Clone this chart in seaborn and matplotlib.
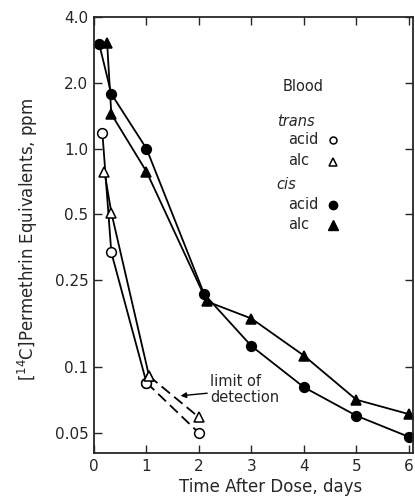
import matplotlib
matplotlib.use("Agg")
import matplotlib.pyplot as plt
from matplotlib.ticker import FixedLocator, NullLocator
import seaborn as sns
import pandas as pd

# --- data ---
cis_acid_x = [0.10, 0.33, 1.0, 2.1, 3.0, 4.0, 5.0, 6.0]
cis_acid_y = [3.0, 1.78, 1.0, 0.216, 0.125, 0.081, 0.060, 0.048]
cis_alc_x = [0.25, 0.33, 1.0, 2.15, 3.0, 4.0, 5.0, 6.0]
cis_alc_y = [3.05, 1.44, 0.785, 0.20, 0.167, 0.113, 0.071, 0.061]
trans_acid_x = [0.16, 0.33, 1.0]
trans_acid_y = [1.18, 0.335, 0.085]
trans_alc_x = [0.2, 0.33, 1.05]
trans_alc_y = [0.78, 0.51, 0.091]
trans_acid_det_x = [1.0, 2.0]
trans_acid_det_y = [0.085, 0.05]
trans_alc_det_x = [1.05, 2.0]
trans_alc_det_y = [0.091, 0.059]

yticks = [0.05, 0.1, 0.25, 0.5, 1.0, 2.0, 4.0]
ytick_labels = ["0.05", "0.1", "0.25", "0.5", "1.0", "2.0", "4.0"]
xticks = [0, 1, 2, 3, 4, 5, 6]
xtick_labels = ["0", "1", "2", "3", "4", "5", "6"]

sns.set_style("ticks")
plt.rcParams["font.family"] = ["DejaVu Sans"]

fig = plt.figure(figsize=(4.15, 4.99), dpi=100)
ax = fig.add_axes([94 / 415, 1 - 453 / 499, (413 - 94) / 415, (453 - 17) / 499])

lw = 1.3
def draw(x, y, marker, filled, dashed=False):
    df = pd.DataFrame({"x": x, "y": y})
    sns.lineplot(data=df, x="x", y="y", ax=ax, color="black", lw=lw,
                 linestyle=(0, (6, 3)) if dashed else "-",
                 marker=marker, markersize=7,
                 markerfacecolor="black" if filled else "white",
                 markeredgecolor="black", markeredgewidth=1.1,
                 sort=False, estimator=None)

draw(trans_acid_det_x, trans_acid_det_y, "o", False, dashed=True)
draw(trans_alc_det_x, trans_alc_det_y, "^", False, dashed=True)
draw(trans_acid_x, trans_acid_y, "o", False)
draw(trans_alc_x, trans_alc_y, "^", False)
draw(cis_acid_x, cis_acid_y, "o", True)
draw(cis_alc_x, cis_alc_y, "^", True)

ax.set_yscale("log")
ax.set_ylim(0.0405, 4.0)
ax.set_xlim(0, 6.08)
ax.yaxis.set_major_locator(FixedLocator(yticks))
ax.yaxis.set_minor_locator(NullLocator())
ax.set_yticklabels(ytick_labels)
ax.set_xticks(xticks)
ax.set_xticklabels(xtick_labels)
ax.tick_params(direction="in", length=6, width=1, top=True, right=True,
               labelsize=11, pad=4)
for s in ax.spines.values():
    s.set_linewidth(1.3)

ax.set_xlabel("Time After Dose, days", fontsize=12)
ax.set_ylabel(r"[$^{14}$C]Permethrin Equivalents, ppm", fontsize=12)
ax.xaxis.set_label_coords(0.555, -0.058)
ax.yaxis.set_label_coords(-0.17, 0.49)

# legend-like text block
fs = 10.5
ax.text(3.6, 1.92, "Blood", fontsize=fs, ha="left", va="center")
ax.text(3.48, 1.33, "trans", fontsize=fs, style="italic", ha="left", va="center")
ax.text(3.7, 1.10, "acid", fontsize=fs, ha="left", va="center")
ax.text(3.7, 0.88, "alc", fontsize=fs, ha="left", va="center")
ax.text(3.48, 0.686, "cis", fontsize=fs, style="italic", ha="left", va="center")
ax.text(3.7, 0.555, "acid", fontsize=fs, ha="left", va="center")
ax.text(3.7, 0.451, "alc", fontsize=fs, ha="left", va="center")
leg_mx = [4.55, 4.55, 4.55, 4.55]
leg_my = [1.10, 0.87, 0.55, 0.445]
ax.plot([leg_mx[0]], [leg_my[0]], "o", ms=5, mfc="white", mec="black", mew=1.1)
ax.plot([leg_mx[1]], [leg_my[1]], "^", ms=6, mfc="white", mec="black", mew=1.1)
ax.plot([leg_mx[2]], [leg_my[2]], "o", ms=6, mfc="black", mec="black")
ax.plot([leg_mx[3]], [leg_my[3]], "^", ms=7, mfc="black", mec="black")

ax.annotate("limit of\ndetection", xy=(1.65, 0.074), xytext=(2.22, 0.079),
            fontsize=fs, ha="left", va="center", linespacing=1.1,
            arrowprops=dict(arrowstyle="-|>", color="black", lw=1,
                            shrinkA=0, shrinkB=0, mutation_scale=8))

fig.savefig("out.png", dpi=100)
